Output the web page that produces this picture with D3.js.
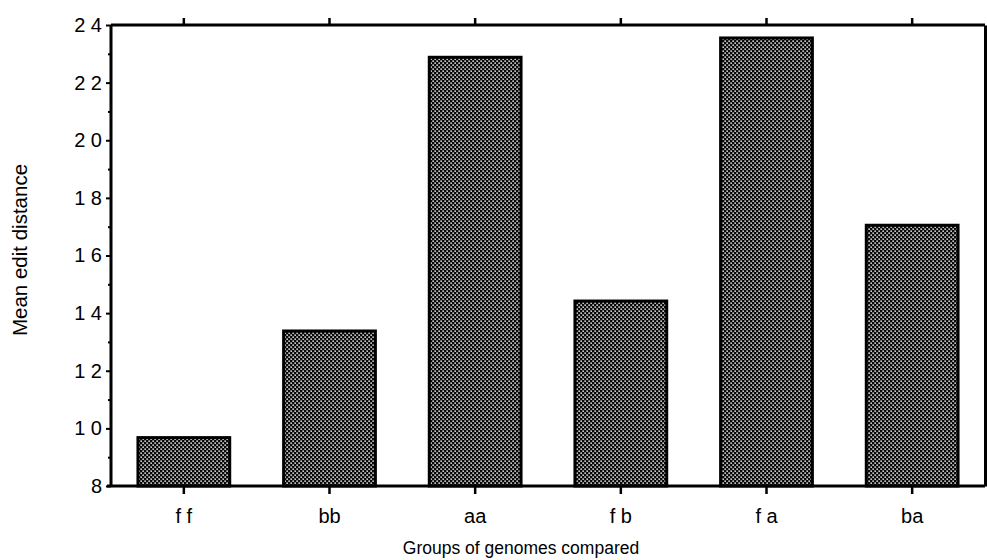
<!DOCTYPE html>
<html>
<head>
<meta charset="utf-8">
<script src="https://cdnjs.cloudflare.com/ajax/libs/d3/7.8.5/d3.min.js"></script>
<style>
  html, body { margin: 0; padding: 0; background: #fff; }
  svg { display: block; }
  text { font-family: "Liberation Sans", Arial, Helvetica, sans-serif; fill: #000; }
</style>
</head>
<body>
<svg id="chart" width="987" height="560"></svg>
<script>
const categories = ["ff", "bb", "aa", "fb", "fa", "ba"];
const categoryLabels = ["f f", "bb", "aa", "f b", "f a", "ba"];
const values = [9.68, 13.38, 22.88, 14.42, 23.55, 17.05];
const yTicks = [8, 10, 12, 14, 16, 18, 20, 22, 24];
const yMinorTicks = [9, 11, 13, 15, 17, 19, 21, 23];
const yTickLabels = ["8", "1 0", "1 2", "1 4", "1 6", "1 8", "2 0", "2 2", "2 4"];
const xTitle = "Groups of genomes compared";
const yTitle = "Mean edit distance";

const W = 987, H = 560;
const m = { left: 111, right: 2, top: 25, bottom: 74 };
const svg = d3.select("#chart");

const defs = svg.append("defs");
const pat = defs.append("pattern")
  .attr("id", "dots").attr("patternUnits", "userSpaceOnUse")
  .attr("width", 4).attr("height", 4);
pat.append("rect").attr("width", 4).attr("height", 4).attr("fill", "#0a0a0a");
pat.append("rect").attr("x", 0.4).attr("y", 0.4).attr("width", 1.5).attr("height", 1.5).attr("fill", "#f0f0f0");
pat.append("rect").attr("x", 2.4).attr("y", 2.4).attr("width", 1.5).attr("height", 1.5).attr("fill", "#f0f0f0");

const x = d3.scaleBand().domain(categories)
  .range([m.left, W - m.right]).paddingInner(0.37).paddingOuter(0.185);
const y = d3.scaleLinear().domain([8, 24]).range([H - m.bottom, m.top]);

// bars
svg.append("g").selectAll("rect").data(categories).join("rect")
  .attr("x", d => x(d))
  .attr("y", (d, i) => y(values[i]))
  .attr("width", x.bandwidth())
  .attr("height", (d, i) => y(8) - y(values[i]))
  .attr("fill", "url(#dots)")
  .attr("stroke", "#000").attr("stroke-width", 3);

// bottom axis
const xAxis = d3.axisBottom(x).tickSize(8).tickPadding(14)
  .tickFormat((d, i) => categoryLabels[i]);
const gx = svg.append("g").attr("transform", `translate(0,${y(8)})`).call(xAxis);
gx.select(".domain").attr("stroke-width", 3).attr("d", `M${m.left - 4},0H${W - m.right}`);
gx.selectAll(".tick line").attr("stroke-width", 2.5);
gx.selectAll(".tick text").style("font-size", "20px").attr("dy", "0.75em");

// top axis
const xTop = d3.axisTop(x).tickSize(7).tickFormat("");
const gt = svg.append("g").attr("transform", `translate(0,${y(24)})`).call(xTop);
gt.select(".domain").attr("stroke-width", 3).attr("d", `M${m.left},0H${W - m.right}`);
gt.selectAll(".tick line").attr("stroke-width", 2.5);

// left axis
const yAxis = d3.axisLeft(y).tickValues(yTicks).tickSize(5).tickPadding(4)
  .tickFormat((d, i) => yTickLabels[i]);
const gy = svg.append("g").attr("transform", `translate(${m.left},0)`).call(yAxis);
gy.select(".domain").attr("stroke-width", 3).attr("d", `M0,${y(8)}V${y(24)}`);
gy.selectAll(".tick line").attr("stroke-width", 2);
gy.selectAll(".tick text").style("font-size", "20px");

const yMinor = d3.axisLeft(y).tickValues(yMinorTicks).tickSize(3).tickFormat("");
const gym = svg.append("g").attr("transform", `translate(${m.left},0)`).call(yMinor);
gym.select(".domain").remove();
gym.selectAll(".tick line").attr("stroke-width", 2);

// right border
const gr = svg.append("g").attr("transform", `translate(${W - m.right},0)`)
  .call(d3.axisRight(y).tickValues([]).tickSizeOuter(0));
gr.select(".domain").attr("stroke-width", 3);

// titles
svg.append("text").attr("x", 521).attr("y", 554)
  .attr("text-anchor", "middle").style("font-size", "17.5px").text(xTitle);
svg.append("text").attr("transform", `translate(27,250) rotate(-90)`)
  .attr("text-anchor", "middle").style("font-size", "20.5px").text(yTitle);
</script>
</body>
</html>
